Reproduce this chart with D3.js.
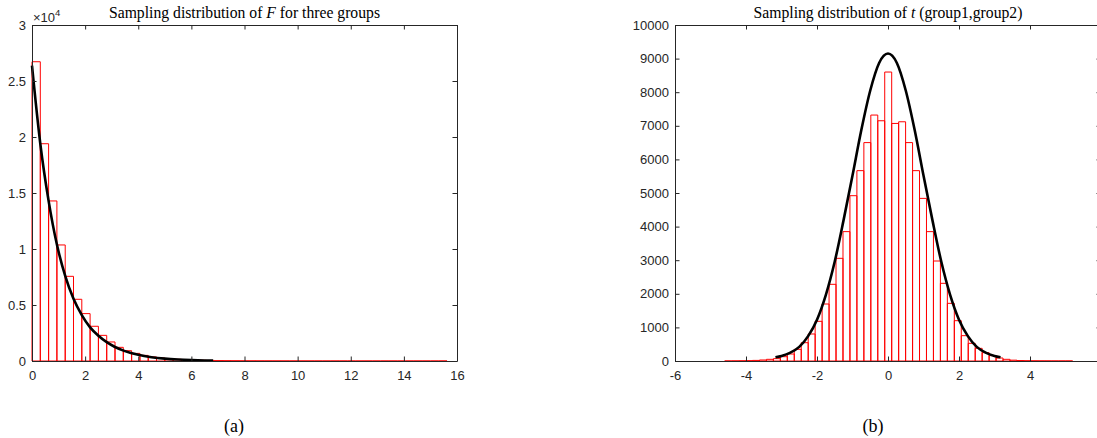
<!DOCTYPE html>
<html>
<head>
<meta charset="utf-8">
<script src="https://cdn.jsdelivr.net/npm/d3@7"></script>
<style>
  body { margin: 0; background: #fff; }
  .tick text { font-family: "Liberation Sans", Arial, sans-serif; font-size: 13px; fill: #262626; }
  .tick line { stroke: #262626; }
  .domain { stroke: #262626; }
  .title, .caption { font-family: "Liberation Serif", "Times New Roman", serif; fill: #000; }
</style>
</head>
<body>
<svg id="svg" width="1097" height="438"></svg>
<script>
// (a) histogram of F, 50 bins
const fBinStart = 0;
const fBinWidth = 0.3125;
const fCounts = [26720, 19400, 14290, 10360, 7560, 5510, 4230, 3100, 2290, 1700,
  1220, 920, 680, 500, 360, 270, 200, 150, 112, 84,
  63, 48, 36, 27, 21, 16, 12, 9, 7, 5,
  4, 3, 3, 2, 2, 1, 1, 1, 1, 0,
  1, 0, 0, 0, 0, 0, 0, 0, 0, 1];
const fCurveX = [0, 0.3125, 0.625, 0.9375, 1.25, 1.5625, 1.875, 2.1875, 2.5, 2.8125, 3.125, 3.5, 4, 4.5, 5, 5.5, 6, 6.5, 6.82];
const fCurveY = [26370, 19400, 14300, 10400, 7600, 5550, 4100, 3000, 2250, 1680, 1250, 880, 550, 340, 210, 130, 80, 50, 40];
const fXTicks = [0, 2, 4, 6, 8, 10, 12, 14, 16];
const fYTicks = [0, 5000, 10000, 15000, 20000, 25000, 30000];

// (b) histogram of t, 50 bins
const tBinStart = -4.6;
const tBinWidth = 0.196;
const tCounts = [1, 3, 6, 10, 18, 30, 50, 70, 128, 208,
  347, 545, 804, 1181, 1696, 2282, 3056, 3850, 4920, 5665,
  6500, 7320, 7150, 8600, 7070, 7120, 6500, 5665, 4840, 3850,
  2976, 2312, 1716, 1200, 754, 526, 377, 248, 159, 89,
  50, 25, 14, 8, 5, 3, 2, 1, 1, 1];
const tCurveX = [-3.17, -3, -2.75, -2.5, -2.25, -2, -1.75, -1.5, -1.25, -1, -0.75, -0.5, -0.25, 0,
  0.25, 0.5, 0.75, 1, 1.25, 1.5, 1.75, 2, 2.25, 2.5, 2.75, 3, 3.17];
const tCurveY = [110, 150, 250, 420, 740, 1230, 1970, 2960, 4200, 5520, 6880, 8050, 8870, 9150,
  8870, 8050, 6880, 5520, 4200, 2960, 1970, 1230, 740, 420, 250, 150, 110];
const tXTicks = [-6, -4, -2, 0, 2, 4, 6];
const tYTicks = d3.range(0, 10001, 1000);

const svg = d3.select('#svg');
svg.append('rect').attr('width', 1097).attr('height', 438).attr('fill', '#fff');

const drawPanel = (opt) => {
  const x = d3.scaleLinear().domain(opt.xDomain).range([opt.left, opt.right]);
  const y = d3.scaleLinear().domain(opt.yDomain).range([361, 25]);
  const g = svg.append('g');

  // bars, drawn as outlines so empty bins still show on the baseline
  g.append('g').selectAll('path').data(opt.counts).enter().append('path')
    .attr('d', (c, i) => {
      const x0 = x(opt.binStart + i * opt.binWidth);
      const x1 = x(opt.binStart + (i + 1) * opt.binWidth);
      return 'M' + x0 + ',' + y(0) + 'V' + y(c) + 'H' + x1 + 'V' + y(0) + 'Z';
    })
    .attr('fill', 'none').attr('stroke', '#ff0000').attr('stroke-width', 1);

  const line = d3.line().x((d) => x(d[0])).y((d) => y(d[1])).curve(d3.curveMonotoneX);
  g.append('path').datum(opt.curveX.map((v, i) => [v, opt.curveY[i]]))
    .attr('d', line).attr('fill', 'none').attr('stroke', '#000').attr('stroke-width', 2.6);

  g.append('g').attr('transform', 'translate(0,361)')
    .call(d3.axisBottom(x).tickValues(opt.xTicks).tickSizeInner(-4.5).tickSizeOuter(0).tickPadding(10).tickFormat((d) => String(d)));
  g.append('g').attr('transform', 'translate(0,25)')
    .call(d3.axisTop(x).tickValues(opt.xTicks).tickSizeInner(-4.5).tickSizeOuter(0).tickFormat(''));
  g.append('g').attr('transform', 'translate(' + opt.left + ',0)')
    .call(d3.axisLeft(y).tickValues(opt.yTicks).tickSizeInner(-4.5).tickSizeOuter(0).tickPadding(6).tickFormat(opt.yFormat));
  g.append('g').attr('transform', 'translate(' + opt.right + ',0)')
    .call(d3.axisRight(y).tickValues(opt.yTicks).tickSizeInner(-4.5).tickSizeOuter(0).tickFormat(''));
  g.selectAll('.domain').attr('stroke-width', 1);
  g.selectAll('.tick line').attr('stroke-width', 1);

  g.append('text').attr('class', 'title')
    .attr('x', (opt.left + opt.right) / 2).attr('y', 18)
    .attr('text-anchor', 'middle').style('font-size', '15.7px')
    .call((t) => {
      t.append('tspan').text(opt.title[0]);
      t.append('tspan').style('font-style', 'italic').text(opt.title[1]);
      t.append('tspan').text(opt.title[2]);
    });

  g.append('text').attr('class', 'caption')
    .attr('x', opt.captionX).attr('y', 432)
    .attr('text-anchor', 'middle').style('font-size', '18px')
    .text(opt.caption);
  return g;
};

const ga = drawPanel({
  left: 32, right: 457, xDomain: [0, 16], yDomain: [0, 30000],
  counts: fCounts, binStart: fBinStart, binWidth: fBinWidth,
  curveX: fCurveX, curveY: fCurveY,
  xTicks: fXTicks, yTicks: fYTicks, yFormat: (d) => String(d / 1e4),
  title: ['Sampling distribution of ', 'F', ' for three groups'],
  caption: '(a)', captionX: 234
});

// exponent label of the left y axis
ga.append('text').attr('x', 33).attr('y', 21.5)
  .style('font-family', '"Liberation Sans", Arial, sans-serif').style('font-size', '13px').attr('fill', '#262626')
  .call((t) => {
    t.append('tspan').text('\u00d710');
    t.append('tspan').attr('dy', -6).style('font-size', '9.5px').text('4');
  });

drawPanel({
  left: 675, right: 1101, xDomain: [-6, 6], yDomain: [0, 10000],
  counts: tCounts, binStart: tBinStart, binWidth: tBinWidth,
  curveX: tCurveX, curveY: tCurveY,
  xTicks: tXTicks, yTicks: tYTicks, yFormat: (d) => String(d),
  title: ['Sampling distribution of ', 't', ' (group1,group2)'],
  caption: '(b)', captionX: 873
});
</script>
</body>
</html>
